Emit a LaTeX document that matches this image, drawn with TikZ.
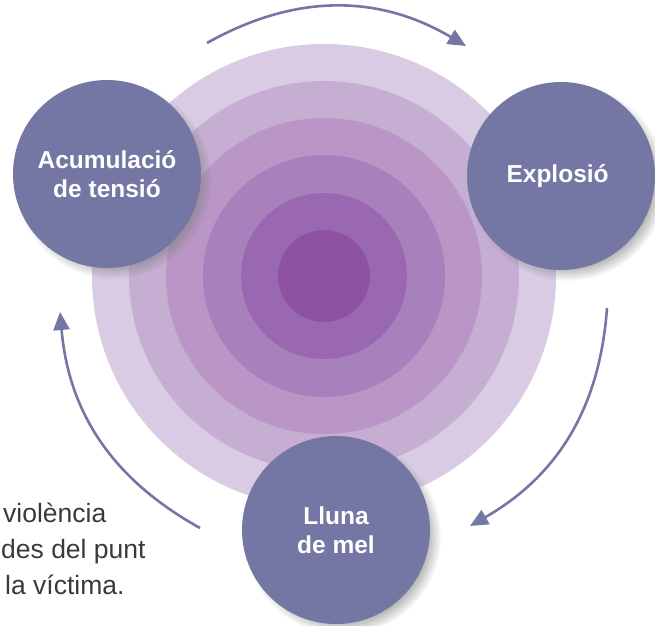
\documentclass[tikz,border=0pt]{standalone}
\usepackage{fontspec}
\setmainfont{Liberation Sans}
\usetikzlibrary{arrows.meta,shadows}
\usepackage{xcolor}
\definecolor{phaseblue}{RGB}{116,118,163}
\definecolor{ringone}{RGB}{217,203,228}
\definecolor{ringtwo}{RGB}{198,173,210}
\definecolor{ringthree}{RGB}{185,150,198}
\definecolor{ringfour}{RGB}{168,128,187}
\definecolor{ringfive}{RGB}{153,104,176}
\definecolor{ringsix}{RGB}{141,82,162}
\definecolor{notegray}{RGB}{58,58,58}

\begin{document}
\begin{tikzpicture}[x=1pt, y=-1pt,
    phase/.style={
        circle,
        minimum size=188pt,
        inner sep=0pt,
        fill=phaseblue,
        text=white,
        align=center,
        font=\fontsize{24.5}{29}\selectfont\bfseries,
        circular drop shadow={shadow xshift=6pt, shadow yshift=-6pt, shadow scale=1.05, opacity=0.6}
    },
    cycle/.style={
        draw=phaseblue,
        line width=2.6pt,
        -{Triangle[length=18pt, width=16pt]}
    },
    note/.style={
        anchor=base west,
        inner sep=0pt,
        text=notegray,
        font=\fontsize{26.5}{36}\selectfont
    }]
    \useasboundingbox (0,0) rectangle (655,625);
    \coordinate (centre) at (324,276);
    \foreach \radius/\shade in {232/ringone, 195/ringtwo, 158/ringthree, 121/ringfour, 83/ringfive, 46/ringsix}
        \fill[\shade] (centre) circle (\radius);

    \node (acumulacio_tensio) [phase] at (107,174)
    {
        Acumulació\\de tensió
    };
    \node (explosio) [phase] at (561,176)
    {
        Explosió
    };
    \node (lluna_mel) [phase] at (336,530)
    {
        Lluna\\de mel
    };

    \coordinate (top_start) at (207,43);
    \coordinate (top_end) at (466,46);
    \coordinate (right_start) at (607,308);
    \coordinate (right_end) at (470,526);
    \coordinate (left_start) at (200,528);
    \coordinate (left_end) at (60,312);
    \draw[cycle] (top_start) to[bend left=30] (top_end);
    \draw[cycle] (right_start) to[bend left=28] (right_end);
    \draw[cycle] (left_start) to[bend left=28] (left_end);

    \node (note_violencia) [note] at (3,522) {violència};
    \node (note_punt) [note] at (1,558) {des del punt};
    \node (note_victima) [note] at (5,594) {la víctima.};
\end{tikzpicture}
\end{document}
